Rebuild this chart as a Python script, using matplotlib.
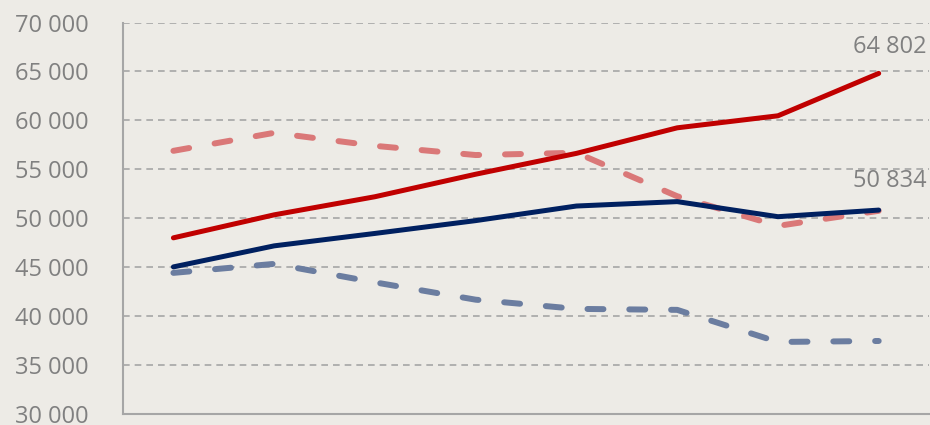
import numpy as np
import matplotlib.pyplot as plt
from matplotlib.ticker import FuncFormatter

# 8 periods along the x axis (no labels shown in the chart)
periods = np.arange(8)

red_solid = [48000, 50350, 52200, 54500, 56630, 59240, 60470, 64802]
navy_solid = [45030, 47180, 48450, 49760, 51250, 51700, 50160, 50834]
red_dashed = [56890, 58730, 57400, 56460, 56690, 52250, 49220, 50760]
navy_dashed = [44420, 45340, 43450, 41680, 40740, 40640, 37360, 37460]

y_ticks = np.arange(30000, 70001, 5000)

bg = '#EDEBE6'
grid_col = '#A6A6A6'
text_col = '#808080'

plt.rcParams['font.family'] = ['Open Sans', 'DejaVu Sans']

fig = plt.figure(figsize=(9.3, 4.25), dpi=100, facecolor=bg)
ax = fig.add_axes([0.1323, 0.0259, 0.8667, 0.9211])
ax.set_facecolor(bg)

for y in y_ticks[1:]:
    ax.axhline(y, color=grid_col, lw=1.2, dashes=(4, 3), zorder=1)

# dashed series: thicker strokes with rounded caps
for series, col in [(navy_dashed, '#6B7DA0'), (red_dashed, '#DA7878')]:
    ax.plot(periods, series, color=col, lw=4.3, dashes=(2.67, 4.33),
            dash_capstyle='round', zorder=2)

ax.plot(periods, navy_solid, color='#002060', lw=3.6,
        solid_capstyle='round', solid_joinstyle='round', zorder=3)
ax.plot(periods, red_solid, color='#C00000', lw=3.6,
        solid_capstyle='round', solid_joinstyle='round', zorder=3)

for series, dy in [(red_solid, 26), (navy_solid, 29)]:
    ax.annotate(f'{series[-1]:,}'.replace(',', ' '), (periods[-1], series[-1]),
                xytext=(-26, dy), textcoords='offset pixels',
                ha='left', va='center', fontsize=17, color=text_col,
                annotation_clip=False)

ax.set_xlim(-0.5, 7.5)
ax.set_ylim(30000, 70000)
ax.set_yticks(y_ticks)
ax.yaxis.set_major_formatter(FuncFormatter(lambda v, p: f'{int(v):,}'.replace(',', ' ')))
ax.set_xticks([])
ax.tick_params(axis='y', length=0, pad=25, labelsize=17, labelcolor=text_col)

for side in ['top', 'right']:
    ax.spines[side].set_visible(False)
for side in ['left', 'bottom']:
    ax.spines[side].set_color(grid_col)
    ax.spines[side].set_linewidth(1.5)

fig.savefig('out.png', dpi=100, facecolor=bg)
